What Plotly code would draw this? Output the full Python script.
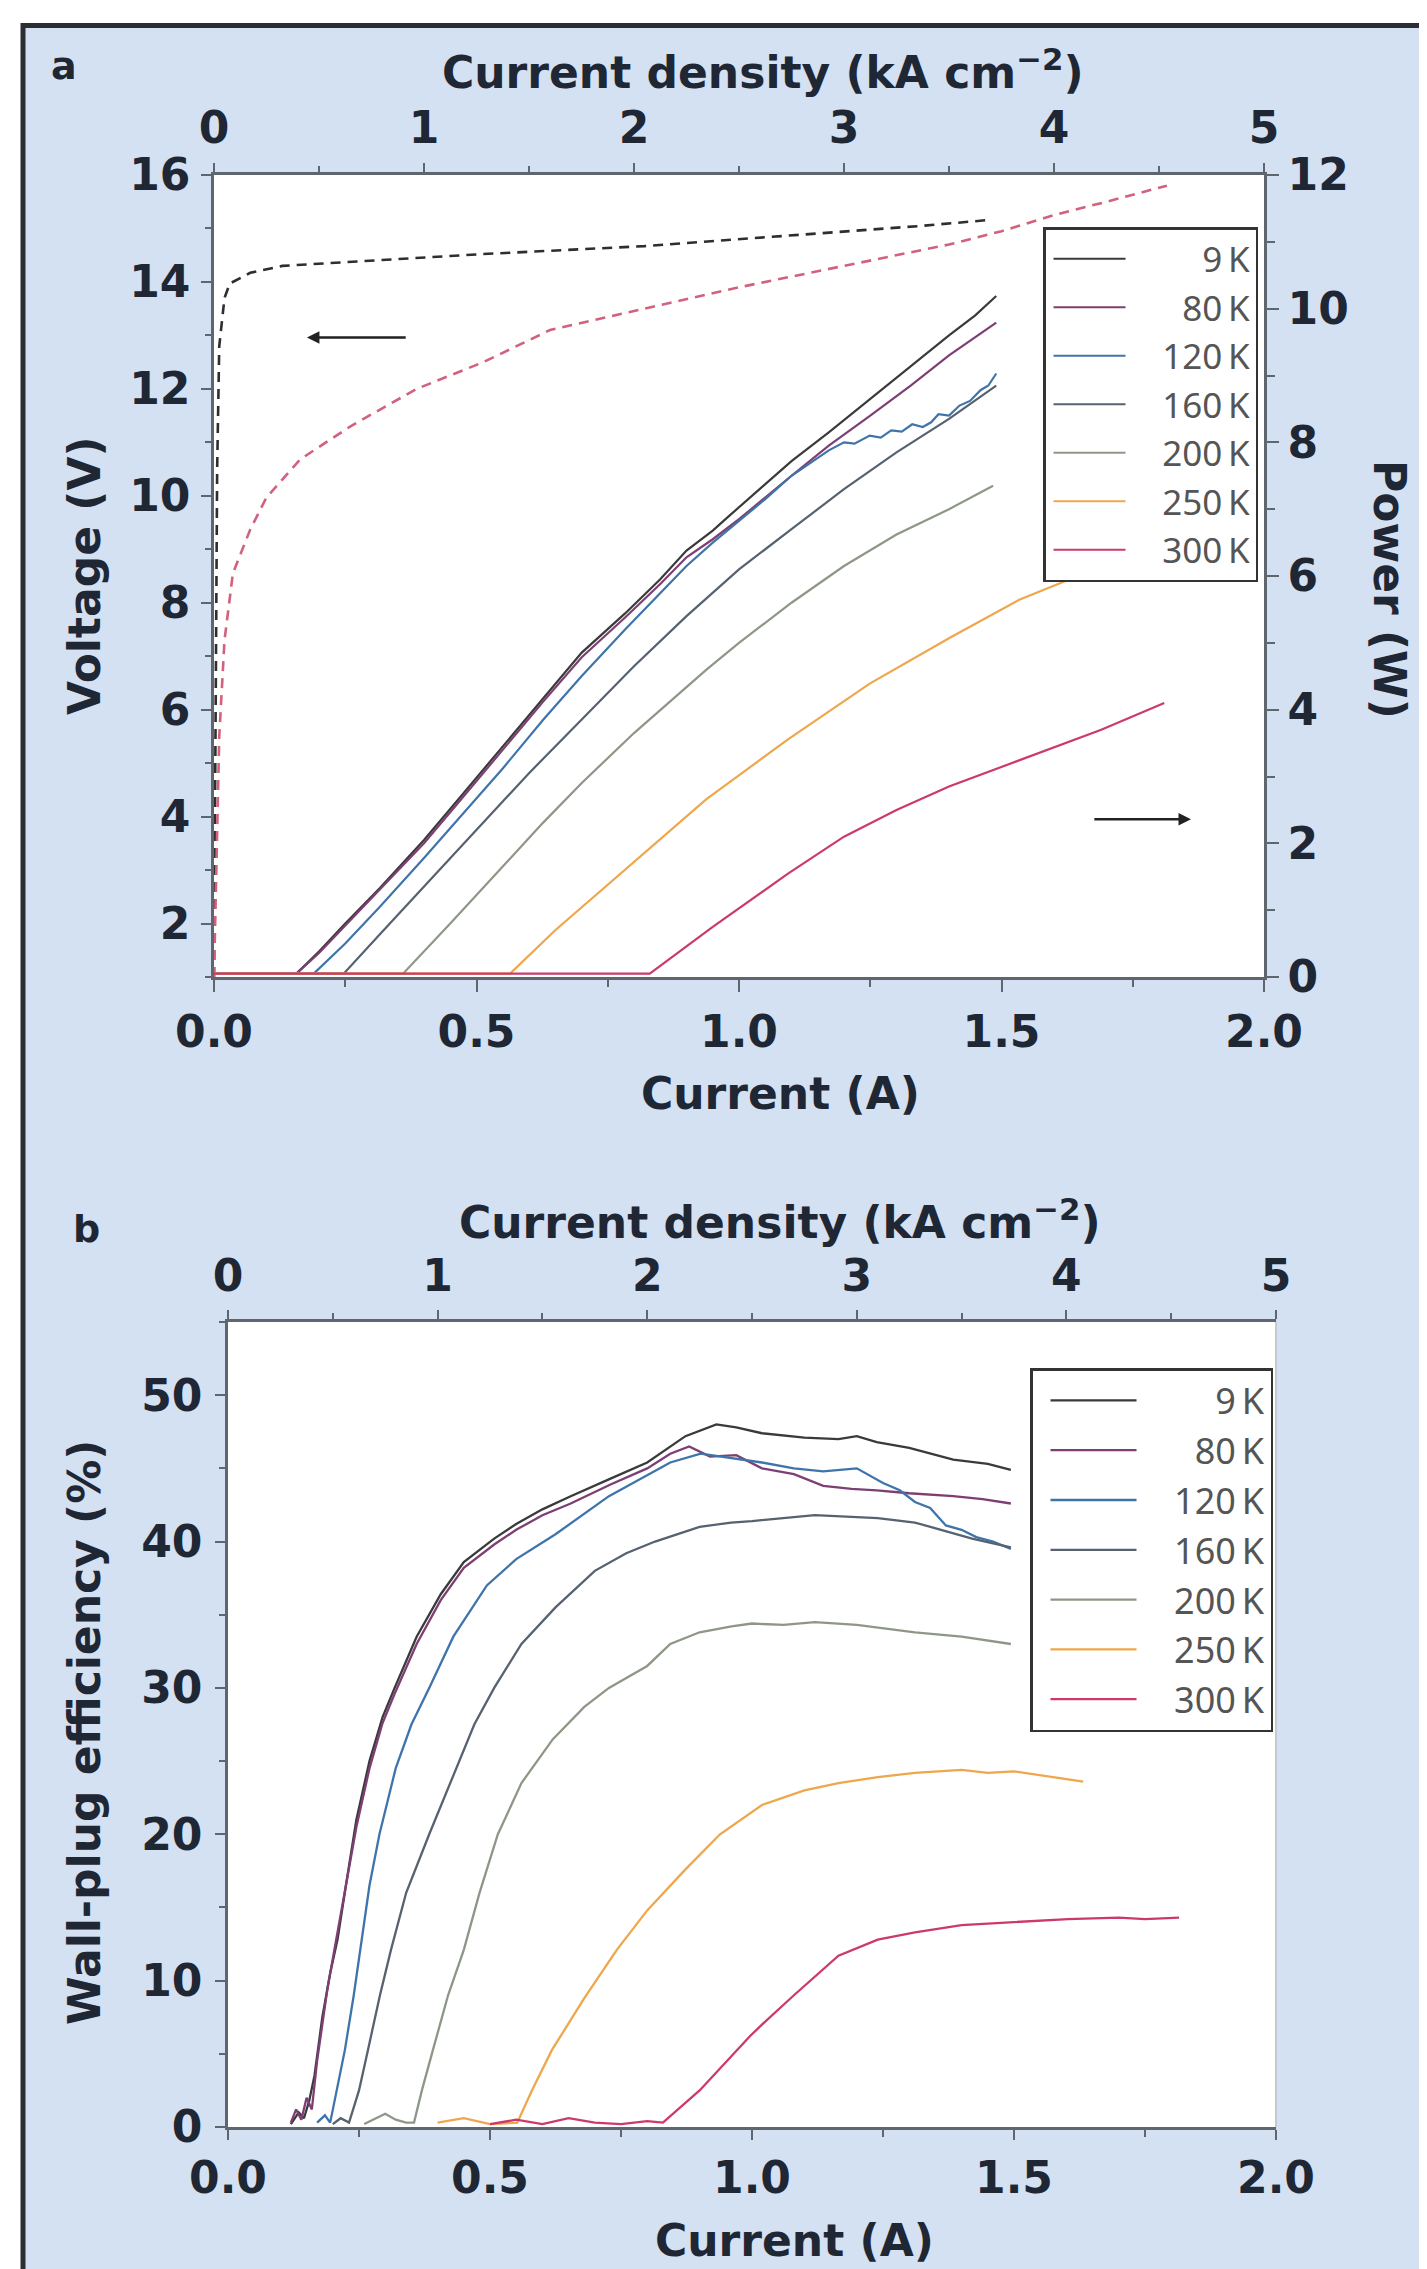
import plotly.graph_objects as go

# ---------------- data ----------------
temps = ["\u2009\u2009\u2007\u2007\u20079\u2009K", "\u2009\u2009\u2007\u200780\u2009K", "\u2009\u2009\u2007120\u2009K",
         "\u2009\u2009\u2007160\u2009K", "\u2009\u2009\u2007200\u2009K", "\u2009\u2009\u2007250\u2009K",
         "\u2009\u2009\u2007300\u2009K"]
colors = ["#3a3a3a", "#7d3f73", "#3f74aa", "#56626f", "#8e9787", "#eea74c", "#cc3a6c"]

# panel a : output power (W) vs current (A)
I_a_9 = [0, 0.157, 0.2, 0.25, 0.316, 0.4, 0.472, 0.55, 0.627, 0.7, 0.783, 0.85, 0.9, 0.95, 0.977, 1.05, 1.1, 1.171, 1.25, 1.327, 1.4, 1.45, 1.49]
P_a_9 = [0.05, 0.05, 0.38, 0.8, 1.33, 2.05, 2.72, 3.45, 4.18, 4.85, 5.44, 5.95, 6.38, 6.68, 6.87, 7.38, 7.72, 8.15, 8.65, 9.13, 9.6, 9.9, 10.19]
I_a_80 = [0, 0.157, 0.2, 0.25, 0.316, 0.4, 0.472, 0.55, 0.627, 0.7, 0.783, 0.85, 0.9, 0.95, 1.0, 1.1, 1.171, 1.25, 1.327, 1.4, 1.49]
P_a_80 = [0.05, 0.05, 0.36, 0.77, 1.3, 2.0, 2.67, 3.4, 4.12, 4.78, 5.38, 5.88, 6.28, 6.55, 6.85, 7.5, 7.95, 8.4, 8.85, 9.3, 9.79]
I_a_120 = [0, 0.19, 0.25, 0.316, 0.4, 0.472, 0.55, 0.627, 0.7, 0.783, 0.85, 0.9, 0.95, 1.0, 1.05, 1.1, 1.171, 1.2, 1.22, 1.249, 1.27, 1.29, 1.31, 1.33, 1.35, 1.366, 1.38, 1.4, 1.42, 1.44, 1.46, 1.475, 1.49]
P_a_120 = [0.05, 0.05, 0.5, 1.05, 1.78, 2.42, 3.12, 3.85, 4.5, 5.2, 5.75, 6.15, 6.5, 6.82, 7.15, 7.5, 7.88, 8.0, 7.98, 8.1, 8.07, 8.18, 8.16, 8.27, 8.23, 8.3, 8.42, 8.4, 8.55, 8.62, 8.78, 8.85, 9.03]
I_a_160 = [0, 0.247, 0.316, 0.4, 0.5, 0.6, 0.7, 0.8, 0.9, 1.0, 1.1, 1.2, 1.3, 1.4, 1.49]
P_a_160 = [0.05, 0.05, 0.64, 1.35, 2.2, 3.05, 3.85, 4.65, 5.4, 6.1, 6.7, 7.3, 7.85, 8.35, 8.85]
I_a_200 = [0, 0.36, 0.45, 0.55, 0.627, 0.7, 0.8, 0.938, 1.0, 1.1, 1.2, 1.3, 1.4, 1.484]
P_a_200 = [0.05, 0.05, 0.8, 1.65, 2.31, 2.9, 3.65, 4.6, 5.0, 5.6, 6.15, 6.62, 7.0, 7.35]
I_a_250 = [0, 0.564, 0.65, 0.783, 0.938, 1.094, 1.249, 1.405, 1.535, 1.63]
P_a_250 = [0.05, 0.05, 0.7, 1.61, 2.66, 3.56, 4.39, 5.09, 5.65, 5.95]
I_a_300 = [0, 0.83, 0.95, 1.094, 1.2, 1.3, 1.4, 1.535, 1.69, 1.81]
P_a_300 = [0.05, 0.05, 0.75, 1.55, 2.1, 2.5, 2.85, 3.25, 3.7, 4.10]

# panel a : voltage (V) vs current (A), 9 K and 300 K
I_v_9 = [0.0, 0.003, 0.006, 0.01, 0.02, 0.03, 0.069, 0.13, 0.26, 0.51, 0.82, 1.0, 1.2, 1.35, 1.478]
V_v_9 = [1.0, 5.0, 10.5, 12.8, 13.7, 13.97, 14.17, 14.3, 14.38, 14.52, 14.67, 14.8, 14.95, 15.05, 15.16]
I_v_300 = [0.0, 0.004, 0.01, 0.02, 0.036, 0.069, 0.1, 0.164, 0.26, 0.386, 0.513, 0.64, 0.817, 1.0, 1.2, 1.4, 1.5, 1.6, 1.7, 1.815]
V_v_300 = [1.0, 3.0, 5.5, 7.3, 8.55, 9.37, 9.97, 10.68, 11.3, 12.0, 12.5, 13.1, 13.5, 13.9, 14.3, 14.7, 14.95, 15.25, 15.5, 15.8]

# panel b : wall-plug efficiency (%) vs current (A)
I_b_9 = [0.12, 0.135, 0.145, 0.155, 0.165, 0.18, 0.195, 0.209, 0.225, 0.245, 0.27, 0.295, 0.318, 0.36, 0.406, 0.45, 0.508, 0.55, 0.6, 0.654, 0.73, 0.8, 0.873, 0.932, 0.97, 1.019, 1.1, 1.165, 1.2, 1.238, 1.3, 1.384, 1.45, 1.494]
W_b_9 = [0.2, 1.0, 0.6, 1.8, 3.5, 7.5, 10.5, 12.8, 16.5, 21.0, 25.0, 28.0, 30.0, 33.5, 36.4, 38.6, 40.2, 41.2, 42.2, 43.1, 44.3, 45.4, 47.2, 48.0, 47.8, 47.4, 47.1, 47.0, 47.2, 46.8, 46.4, 45.6, 45.3, 44.9]
I_b_80 = [0.12, 0.13, 0.14, 0.15, 0.16, 0.17, 0.19, 0.205, 0.223, 0.245, 0.27, 0.295, 0.318, 0.36, 0.406, 0.45, 0.508, 0.55, 0.6, 0.654, 0.73, 0.8, 0.844, 0.88, 0.92, 0.97, 1.019, 1.08, 1.136, 1.19, 1.238, 1.3, 1.384, 1.44, 1.494]
W_b_80 = [0.3, 1.2, 0.5, 2.0, 1.2, 4.5, 9.5, 12.5, 16.0, 20.5, 24.5, 27.6, 29.6, 33.0, 36.0, 38.2, 39.8, 40.8, 41.8, 42.6, 43.9, 45.0, 46.0, 46.5, 45.8, 45.9, 45.0, 44.6, 43.8, 43.6, 43.5, 43.3, 43.1, 42.9, 42.6]
I_b_120 = [0.17, 0.185, 0.195, 0.21, 0.223, 0.24, 0.253, 0.27, 0.289, 0.32, 0.35, 0.384, 0.43, 0.494, 0.55, 0.625, 0.727, 0.8, 0.844, 0.902, 0.96, 1.019, 1.08, 1.136, 1.2, 1.25, 1.282, 1.311, 1.34, 1.37, 1.4, 1.428, 1.46, 1.494]
W_b_120 = [0.3, 0.8, 0.3, 3.0, 5.25, 9.0, 12.1, 16.5, 20.0, 24.5, 27.5, 30.0, 33.5, 37.0, 38.8, 40.5, 43.1, 44.5, 45.4, 46.0, 45.7, 45.4, 45.0, 44.8, 45.0, 44.0, 43.5, 42.7, 42.3, 41.1, 40.8, 40.3, 40.0, 39.5]
I_b_160 = [0.2, 0.215, 0.231, 0.25, 0.267, 0.29, 0.311, 0.34, 0.384, 0.43, 0.47, 0.508, 0.56, 0.625, 0.7, 0.76, 0.815, 0.9, 0.96, 1.0, 1.06, 1.12, 1.18, 1.24, 1.311, 1.36, 1.42, 1.494]
W_b_160 = [0.2, 0.6, 0.3, 2.5, 5.25, 9.0, 12.1, 16.0, 20.0, 24.0, 27.5, 30.0, 33.0, 35.5, 38.0, 39.2, 40.0, 41.0, 41.3, 41.4, 41.6, 41.8, 41.7, 41.6, 41.3, 40.8, 40.2, 39.6]
I_b_200 = [0.26, 0.3, 0.32, 0.34, 0.355, 0.37, 0.391, 0.42, 0.45, 0.48, 0.515, 0.56, 0.62, 0.68, 0.727, 0.8, 0.844, 0.9, 0.961, 1.0, 1.06, 1.12, 1.2, 1.311, 1.4, 1.494]
W_b_200 = [0.2, 0.9, 0.5, 0.3, 0.3, 2.5, 5.25, 9.0, 12.1, 16.0, 20.0, 23.5, 26.5, 28.7, 30.0, 31.5, 33.0, 33.8, 34.2, 34.4, 34.3, 34.5, 34.3, 33.8, 33.5, 33.0]
I_b_250 = [0.4, 0.45, 0.5, 0.552, 0.58, 0.618, 0.68, 0.742, 0.8, 0.873, 0.939, 1.019, 1.1, 1.165, 1.24, 1.311, 1.4, 1.45, 1.5, 1.56, 1.632]
W_b_250 = [0.3, 0.6, 0.2, 0.3, 2.5, 5.25, 8.8, 12.1, 14.8, 17.6, 20.0, 22.0, 23.0, 23.5, 23.9, 24.2, 24.4, 24.2, 24.3, 24.0, 23.6]
I_b_300 = [0.5, 0.55, 0.6, 0.65, 0.7, 0.75, 0.8, 0.83, 0.9, 0.996, 1.019, 1.08, 1.165, 1.24, 1.311, 1.4, 1.5, 1.603, 1.7, 1.75, 1.815]
W_b_300 = [0.2, 0.5, 0.2, 0.6, 0.3, 0.2, 0.4, 0.3, 2.5, 6.2, 7.0, 9.0, 11.7, 12.8, 13.3, 13.8, 14.0, 14.2, 14.3, 14.2, 14.3]

density_ticks = [0, 1, 2, 3, 4, 5]

I_a = [I_a_9, I_a_80, I_a_120, I_a_160, I_a_200, I_a_250, I_a_300]
P_a = [P_a_9, P_a_80, P_a_120, P_a_160, P_a_200, P_a_250, P_a_300]
I_b = [I_b_9, I_b_80, I_b_120, I_b_160, I_b_200, I_b_250, I_b_300]
W_b = [W_b_9, W_b_80, W_b_120, W_b_160, W_b_200, W_b_250, W_b_300]

# ---------------- layout helpers ----------------
OFF = 8                      # default page margin of the html body
W, H = 1427 - OFF, 2269 - OFF
ML, MR, MT, MB = 200, 140, 150, 130
PW = W - ML - MR
PH = H - MT - MB


def px(X):
    return (X - OFF - ML) / PW


def py(Y):
    return (H - MB - (Y - OFF)) / PH


BG = "#d4e1f2"
AX = "#5f666e"
TXT = "#1e2733"
FONT = "DejaVu Sans"
TF = dict(family=FONT, size=44, color=TXT, weight="bold")

fig = go.Figure()

# panel a voltage (dashed)
fig.add_trace(go.Scatter(x=I_v_9, y=V_v_9, mode="lines", xaxis="x", yaxis="y",
                         line=dict(color="#2e2e2e", width=2.6, dash="10px,7px"),
                         showlegend=False, hoverinfo="skip"))
fig.add_trace(go.Scatter(x=I_v_300, y=V_v_300, mode="lines", xaxis="x", yaxis="y",
                         line=dict(color="#d2617d", width=2.6, dash="10px,7px"),
                         showlegend=False, hoverinfo="skip"))
fig.add_trace(go.Scatter(x=density_ticks, y=[None] * len(density_ticks), xaxis="x2", yaxis="y",
                         showlegend=False, hoverinfo="skip"))
# panel a power
for k in range(7):
    fig.add_trace(go.Scatter(x=I_a[k], y=P_a[k], mode="lines", name=temps[k],
                             xaxis="x", yaxis="y2", legend="legend",
                             line=dict(color=colors[k], width=2.2)))
# panel b efficiency
fig.add_trace(go.Scatter(x=density_ticks, y=[None] * len(density_ticks), xaxis="x4", yaxis="y3",
                         showlegend=False, hoverinfo="skip"))
for k in range(7):
    fig.add_trace(go.Scatter(x=I_b[k], y=W_b[k], mode="lines", name=temps[k],
                             xaxis="x3", yaxis="y3", legend="legend2",
                             line=dict(color=colors[k], width=2.3)))

xa = [px(214), px(1264)]
ya = [py(977), py(175)]
xb = [px(228), px(1276)]
yb = [py(2127), py(1322)]

common = dict(showgrid=False, zeroline=False, showline=True, linecolor=AX, linewidth=2.5,
              ticks="outside", tickcolor=AX, tickwidth=2, tickfont=TF)

fig.update_layout(
    width=W, height=H,
    margin=dict(l=ML, r=MR, t=MT, b=MB),
    paper_bgcolor=BG, plot_bgcolor="white",
    xaxis=dict(domain=xa, anchor="y", range=[0, 2], tick0=0, dtick=0.5, tickformat=".1f",
               ticklen=12, ticklabelstandoff=2,
               minor=dict(dtick=0.25, ticks="outside", ticklen=7, tickcolor=AX), **common),
    xaxis2=dict(overlaying="x", anchor="y", side="top", range=[0, 5], tick0=0, dtick=1,
                ticklen=9, ticklabelstandoff=3,
                minor=dict(dtick=0.5, ticks="outside", ticklen=6, tickcolor=AX), **common),
    yaxis=dict(domain=ya, anchor="x", range=[1, 16], tick0=0, dtick=2,
               ticklen=10, ticklabelstandoff=2,
               minor=dict(dtick=1, ticks="outside", ticklen=6, tickcolor=AX), **common),
    yaxis2=dict(overlaying="y", anchor="x", side="right", range=[0, 12], tick0=0, dtick=2,
                ticklen=12, ticklabelstandoff=0,
                minor=dict(dtick=1, ticks="outside", ticklen=8, tickcolor=AX), **common),
    xaxis3=dict(domain=xb, anchor="y3", range=[0, 2], tick0=0, dtick=0.5, tickformat=".1f",
                ticklen=10, ticklabelstandoff=0,
                minor=dict(dtick=0.25, ticks="outside", ticklen=7, tickcolor=AX), **common),
    xaxis4=dict(overlaying="x3", anchor="y3", side="top", range=[0, 5], tick0=0, dtick=1,
                ticklen=9, ticklabelstandoff=2,
                minor=dict(dtick=0.5, ticks="outside", ticklen=6, tickcolor=AX), **common),
    yaxis3=dict(domain=yb, anchor="x3", range=[0, 55], tick0=0, dtick=10,
                ticklen=10, ticklabelstandoff=4,
                minor=dict(dtick=5, ticks="outside", ticklen=6, tickcolor=AX), **common),
    legend=dict(x=px(1043), y=py(227), xanchor="left", yanchor="top",
                bgcolor="white", bordercolor="#333333", borderwidth=2.5,
                font=dict(family="Noto Sans", size=35, color="#555555"),
                itemwidth=72, tracegroupgap=0, indentation=3),
    legend2=dict(x=px(1030), y=py(1368), xanchor="left", yanchor="top",
                 bgcolor="white", bordercolor="#333333", borderwidth=2.5,
                 font=dict(family="Noto Sans", size=36, color="#555555"),
                 itemwidth=86, tracegroupgap=0, indentation=13),
    showlegend=True,
)

TITLE = dict(family=FONT, size=44, color=TXT, weight="bold")
ann = [
    ("a", 64, 66, 0, dict(family=FONT, size=38, color=TXT, weight="bold")),
    ("b", 86, 1229, 0, dict(family=FONT, size=38, color=TXT, weight="bold")),
    ("Current density (kA cm<sup>\u22122</sup>)", 763, 70, 0, TITLE),
    ("Current (A)", 780, 1093, 0, TITLE),
    ("Voltage (V)", 84, 576, -90, TITLE),
    ("Power (W)", 1390, 589, 90, TITLE),
    ("Current density (kA cm<sup>\u22122</sup>)", 780, 1219, 0, TITLE),
    ("Current (A)", 794, 2240, 0, TITLE),
    ("Wall-plug efficiency (%)", 84, 1733, -90, TITLE),
]
for text, X, Y, ang, f in ann:
    fig.add_annotation(text=text, x=px(X), y=py(Y), xref="paper", yref="paper",
                       xanchor="center", yanchor="middle", showarrow=False,
                       textangle=ang, font=f)

# arrows indicating axes
fig.add_annotation(x=0.177, y=12.96, ax=0.368, ay=12.96, xref="x", yref="y", axref="x", ayref="y",
                   text="", showarrow=True, arrowhead=2, arrowsize=1, arrowwidth=2.5, arrowcolor="#222222")
fig.add_annotation(x=1.861, y=2.36, ax=1.674, ay=2.36, xref="x", yref="y2", axref="x", ayref="y2",
                   text="", showarrow=True, arrowhead=2, arrowsize=1, arrowwidth=2.5, arrowcolor="#222222")

# white margins + frame lines of the figure panel
fig.add_shape(type="rect", xref="paper", yref="paper", x0=px(-5), x1=px(22), y0=py(H + 30), y1=py(-5),
              fillcolor="white", line=dict(width=0), layer="above")
fig.add_shape(type="rect", xref="paper", yref="paper", x0=px(-5), x1=px(W + 30), y0=py(24), y1=py(-5),
              fillcolor="white", line=dict(width=0), layer="above")
fig.add_shape(type="line", xref="paper", yref="paper", x0=px(23), x1=px(23), y0=py(H + 30), y1=py(23),
              line=dict(color="#2b2f33", width=5), layer="above")
fig.add_shape(type="line", xref="paper", yref="paper", x0=px(21), x1=px(W + 30), y0=py(25.5), y1=py(25.5),
              line=dict(color="#2b2f33", width=5), layer="above")
# faint right frame of panel b
fig.add_shape(type="line", xref="x3 domain", yref="y3 domain", x0=1, x1=1, y0=0, y1=1,
              line=dict(color="#c5cad0", width=2))

fig.write_html("out.html")
